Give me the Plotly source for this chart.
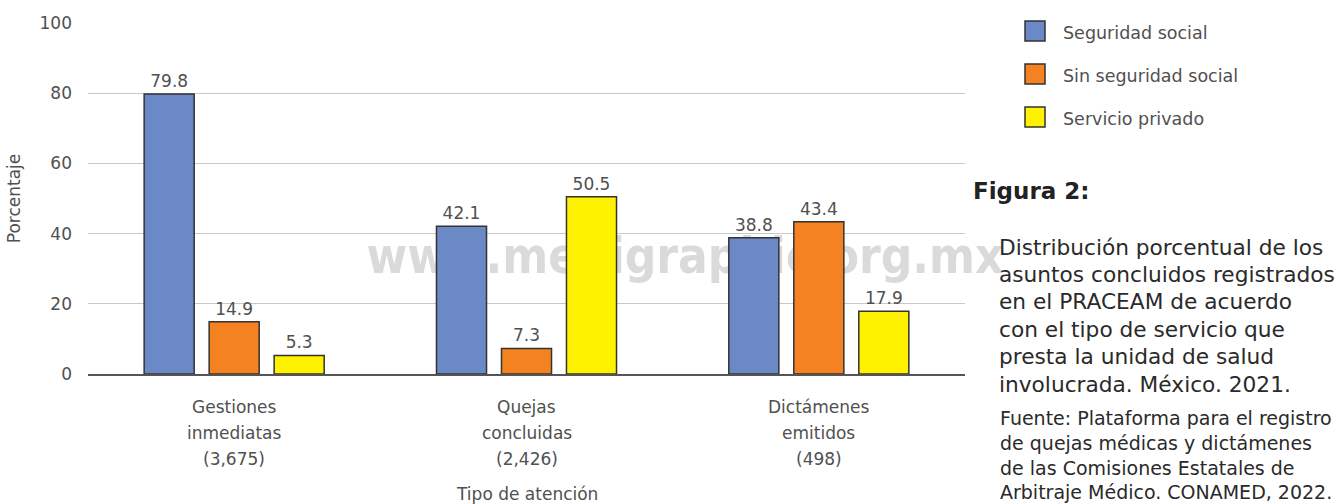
import plotly.graph_objects as go

# ---------------- data ----------------
categories = ["Gestiones<br>inmediatas<br>(3,675)",
              "Quejas<br>concluidas<br>(2,426)",
              "Dictámenes<br>emitidos<br>(498)"]
series_names = ["Seguridad social", "Sin seguridad social", "Servicio privado"]
seguridad_social = [79.8, 42.1, 38.8]
sin_seguridad_social = [14.9, 7.3, 43.4]
servicio_privado = [5.3, 50.5, 17.9]
y_ticks = [0, 20, 40, 60, 80, 100]
x_title = "Tipo de atención"
y_title = "Porcentaje"
caption_title = "Figura 2:"
caption_lines = ["Distribución porcentual de los",
                 "asuntos concluidos registrados",
                 "en el PRACEAM de acuerdo",
                 "con el tipo de servicio que",
                 "presta la unidad de salud",
                 "involucrada. México. 2021."]
source_lines = ["Fuente: Plataforma para el registro",
                "de quejas médicas y dictámenes",
                "de las Comisiones Estatales de",
                "Arbitraje Médico. CONAMED, 2022."]
watermark = "www.medigraphic.org.mx"

# ---------------- styles ----------------
colors = ["#6A89C6", "#F58220", "#FFF200"]
W, H = 1337, 504
L, R, T, B = 88, 372, 23, 130
PW, PH = W - L - R, H - T - B
AXFONT = "DejaVu Sans"
TXT = "#505050"


def px(xp):
    return (xp - L) / PW


def py(yp):
    return (H - B - yp) / PH


fig = go.Figure()
for name, vals, col in zip(series_names,
                           [seguridad_social, sin_seguridad_social, servicio_privado],
                           colors):
    fig.add_trace(go.Bar(
        x=categories, y=vals, name=name,
        marker=dict(color=col, line=dict(color="#333333", width=1.5)),
        text=[f"{v:.1f}" for v in vals], textposition="outside",
        textfont=dict(family=AXFONT, size=17, color=TXT),
        cliponaxis=False,
    ))

fig.update_layout(
    width=W, height=H,
    margin=dict(l=L, r=R, t=T, b=B),
    paper_bgcolor="white", plot_bgcolor="white",
    barmode="group", bargap=0.333, bargroupgap=0.23,
    showlegend=False,
    font=dict(family=AXFONT, color=TXT),
)
fig.update_xaxes(
    showgrid=False, showline=True, linecolor="#555555", linewidth=1.5,
    ticks="", showticklabels=False, automargin=False,
)
fig.update_yaxes(
    range=[0, 100], tickvals=y_ticks, showgrid=True, gridcolor="#c8c8c8", gridwidth=1.2,
    zeroline=False, showline=False, ticks="",
    tickfont=dict(family=AXFONT, size=17, color=TXT), ticklabelstandoff=15,
    title=dict(text=y_title, font=dict(family=AXFONT, size=17, color=TXT), standoff=14),
    automargin=False,
)

# category labels (one annotation per line, placed on the category axis)
for cat in categories:
    for j, part in enumerate(cat.split("<br>")):
        fig.add_annotation(xref="x", yref="paper", x=cat, y=py(407 + j * 26),
                           text=part, showarrow=False, xanchor="center", yanchor="middle",
                           font=dict(family=AXFONT, size=17, color=TXT))
fig.add_annotation(xref="paper", yref="paper", x=0.5, y=py(494),
                   text=x_title, showarrow=False, xanchor="center", yanchor="middle",
                   font=dict(family=AXFONT, size=17, color=TXT))

# watermark behind bars
fig.add_shape(type="rect", xref="paper", yref="paper",
              x0=px(375), x1=px(995), y0=py(282), y1=py(222),
              line=dict(width=0), fillcolor="rgba(0,0,0,0)", layer="between",
              label=dict(text=watermark, textposition="middle center",
                         font=dict(family="Liberation Sans Narrow, Arial Narrow, DejaVu Sans Condensed, sans-serif",
                                   size=49, color="#dadada", weight="bold")))

# legend
leg_y = [31, 74, 117]
for name, col, yc in zip(series_names, colors, leg_y):
    fig.add_shape(type="rect", xref="paper", yref="paper",
                  x0=px(1025), x1=px(1045), y0=py(yc - 10), y1=py(yc + 10),
                  fillcolor=col, line=dict(color="#333333", width=1.5))
    fig.add_annotation(xref="paper", yref="paper", x=px(1061), y=py(yc + 2),
                       text=name, showarrow=False, xanchor="left", yanchor="middle",
                       font=dict(family=AXFONT, size=17.5, color=TXT))

# caption
fig.add_annotation(xref="paper", yref="paper", x=px(971), y=py(191),
                   text=f"<b>{caption_title}</b>", showarrow=False,
                   xanchor="left", yanchor="middle",
                   font=dict(family=AXFONT, size=23, color="#222222"))
for i, line in enumerate(caption_lines):
    fig.add_annotation(xref="paper", yref="paper", x=px(997), y=py(247 + i * 27.4),
                       text=line, showarrow=False, xanchor="left", yanchor="middle",
                       font=dict(family=AXFONT, size=21.7, color="#2a2a2a"))
for i, line in enumerate(source_lines):
    fig.add_annotation(xref="paper", yref="paper", x=px(998), y=py(418 + i * 24.8),
                       text=line, showarrow=False, xanchor="left", yanchor="middle",
                       font=dict(family=AXFONT, size=19, color="#2a2a2a"))

fig.write_html("out.html", config={"displayModeBar": False},
               post_script="document.body.style.margin='0';")
